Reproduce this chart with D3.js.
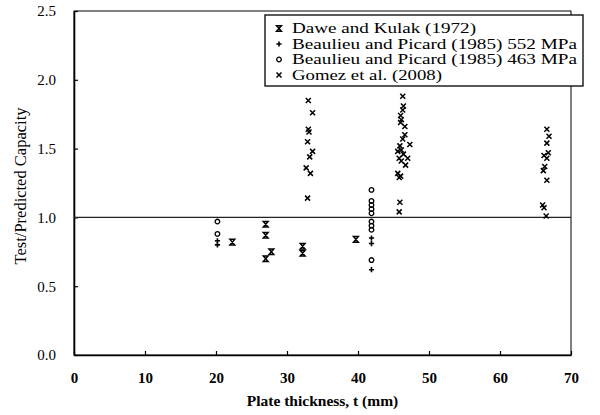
<!DOCTYPE html>
<html><head><meta charset="utf-8">
<script src="https://cdn.jsdelivr.net/npm/d3@7"></script>
<style>
html,body{margin:0;padding:0;background:#fff;}
svg{display:block;font-family:"Liberation Serif",serif;}
svg text{font-family:"Liberation Serif",serif;}
</style></head>
<body>
<svg id="chart" width="600" height="415"></svg>
<script>
// ---- data ----
const seriesNames = ["Dawe and Kulak (1972)", "Beaulieu and Picard (1985) 552 MPa", "Beaulieu and Picard (1985) 463 MPa", "Gomez et al. (2008)"];
const daweX = [22.3, 27.0, 27.0, 27.8, 27.0, 32.2, 32.2, 39.7];
const daweY = [0.82, 0.95, 0.87, 0.75, 0.70, 0.79, 0.74, 0.84];
const bp552X = [20.2, 20.2, 41.9, 41.9, 41.9];
const bp552Y = [0.83, 0.80, 0.85, 0.81, 0.62];
const bp463X = [20.2, 20.2, 41.9, 41.9, 41.9, 41.9, 41.9, 41.9, 41.9, 41.9, 41.9];
const bp463Y = [0.97, 0.88, 1.20, 1.12, 1.09, 1.06, 1.03, 0.97, 0.94, 0.91, 0.69];
const gomezX = [33.0, 33.6, 33.0, 33.1, 32.9, 33.6, 33.2, 32.7, 33.3, 32.9,
  46.3, 46.4, 46.3, 46.0, 46.1, 46.0, 46.6, 46.6, 46.3, 47.3, 45.9, 46.1, 45.6, 46.4, 47.0, 45.8, 46.1, 46.7, 45.6, 46.0, 45.8, 45.9, 45.8,
  66.6, 66.9, 66.6, 66.8, 66.2, 66.6, 66.3, 66.1, 66.6, 66.0, 66.2, 66.5];
const gomezY = [1.85, 1.76, 1.64, 1.62, 1.55, 1.48, 1.44, 1.36, 1.32, 1.14,
  1.88, 1.81, 1.78, 1.74, 1.71, 1.69, 1.66, 1.60, 1.57, 1.53, 1.52, 1.49, 1.48, 1.46, 1.43, 1.43, 1.41, 1.38, 1.32, 1.30, 1.29, 1.11, 1.04,
  1.64, 1.59, 1.54, 1.47, 1.45, 1.43, 1.37, 1.34, 1.27, 1.09, 1.07, 1.01];
const xTicks = [0, 10, 20, 30, 40, 50, 60, 70];
const yTicks = [0.0, 0.5, 1.0, 1.5, 2.0, 2.5];
const refValue = 1.0;

// ---- drawing ----
const svg = d3.select("#chart");
const L = 74, R = 571, T = 11, B = 355;
const x = d3.scaleLinear().domain([0, 70]).range([L, R]);
const y = d3.scaleLinear().domain([0, 2.5]).range([B, T]);

// frame
svg.append("rect").attr("x", L).attr("y", T).attr("width", R - L).attr("height", B - T)
  .attr("fill", "none").attr("stroke", "#000").attr("stroke-width", 1);

// axes
const xAxis = d3.axisBottom(x).tickValues(xTicks).tickFormat(d3.format("d")).tickSizeInner(-4).tickSizeOuter(0).tickPadding(17);
const gx = svg.append("g").attr("transform", `translate(0,${B})`).call(xAxis);
const yAxis = d3.axisLeft(y).tickValues(yTicks).tickFormat(d3.format(".1f")).tickSizeInner(-4).tickSizeOuter(0).tickPadding(18);
const gy = svg.append("g").attr("transform", `translate(${L},0)`).call(yAxis);
[gx, gy].forEach(g => {
  g.attr("font-family", "Liberation Serif");
  g.select(".domain").attr("stroke", "#000").attr("stroke-width", 1.6);
  g.selectAll(".tick line").attr("stroke", "#000").attr("stroke-width", 1.2);
  g.selectAll(".tick text").attr("fill", "#000").attr("font-family", "Liberation Serif").style("font-size", "15px");
});
gx.selectAll(".tick text").style("font-weight", "bold");

// reference line
svg.append("line").attr("x1", L).attr("x2", R).attr("y1", y(refValue)).attr("y2", y(refValue))
  .attr("stroke", "#222").attr("stroke-width", 1.2);

// titles
svg.append("text").attr("x", (L + R) / 2).attr("y", 406).attr("text-anchor", "middle")
  .attr("font-family", "Liberation Serif")
  .style("font-size", "15.5px").style("font-weight", "bold").attr("fill", "#000").text("Plate thickness, t (mm)");
svg.append("text").attr("transform", `translate(20,${(T + B) / 2 + 3}) rotate(-90)`).attr("text-anchor", "middle")
  .attr("font-family", "Liberation Serif")
  .attr("dy", "0.35em").style("font-size", "16.5px").attr("fill", "#000").text("Test/Predicted Capacity");

// symbols
const sym = {
  hour: "M-2.4,-2.8H2.4L-2.4,2.8H2.4Z",
  plus: "M-2.6,0H2.6M0,-2.6V2.6",
  circ: "M2.3,0A2.3,2.3 0 1,1 -2.3,0A2.3,2.3 0 1,1 2.3,0Z",
  cross: "M-2.5,-2.5L2.5,2.5M-2.5,2.5L2.5,-2.5"
};
const series = [
  {xs: daweX, ys: daweY, s: sym.hour, w: 1.5},
  {xs: bp552X, ys: bp552Y, s: sym.plus, w: 1.6},
  {xs: bp463X, ys: bp463Y, s: sym.circ, w: 1.3},
  {xs: gomezX, ys: gomezY, s: sym.cross, w: 1.5}
];
series.forEach(se => {
  svg.append("g").selectAll("path").data(se.xs.map((v, i) => [v, se.ys[i]])).join("path")
    .attr("transform", d => `translate(${x(d[0])},${y(d[1])})`)
    .attr("d", se.s).attr("fill", "none").attr("stroke", "#000").attr("stroke-width", se.w);
});

// legend
const lg = svg.append("g");
lg.append("rect").attr("x", 265).attr("y", 15).attr("width", 318).attr("height", 71)
  .attr("fill", "#fff").attr("stroke", "#000").attr("stroke-width", 1.3);
const rowY = [28.5, 44, 59.5, 75];
const rowW = [184, 285, 285, 150];
const legSyms = [sym.hour, sym.plus, sym.circ, sym.cross];
seriesNames.forEach((n, i) => {
  lg.append("path").attr("transform", `translate(279,${rowY[i]})`).attr("d", legSyms[i])
    .attr("fill", "none").attr("stroke", "#000").attr("stroke-width", series[i].w);
  lg.append("text").attr("x", 292).attr("y", rowY[i]).attr("dy", "0.33em")
    .attr("font-family", "Liberation Serif")
    .attr("textLength", rowW[i]).attr("lengthAdjust", "spacingAndGlyphs")
    .style("font-size", "15px").attr("fill", "#000").text(n);
});
</script>
</body></html>
